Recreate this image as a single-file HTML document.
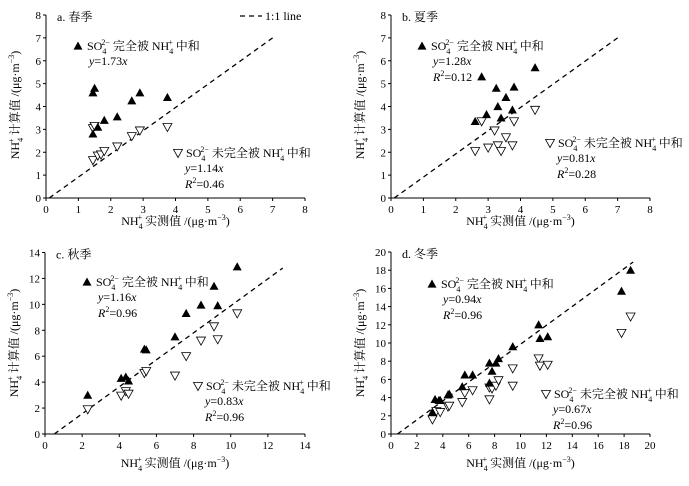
<!DOCTYPE html>
<html><head><meta charset="utf-8">
<style>
html,body{margin:0;padding:0;background:#fff;}
svg{display:block;font-family:"Liberation Serif","Noto Serif CJK SC",serif;}
</style></head>
<body>
<svg id="chart" width="689" height="486" viewBox="0 0 689 486" xmlns="http://www.w3.org/2000/svg"></svg>
<script>
// Panel data (x = measured, y = calculated)
const springFullX = [1.45,1.45,1.5,1.6,1.8,2.2,2.65,2.9,3.75];
const springFullY = [2.8,4.6,4.8,3.1,3.4,3.55,4.25,4.6,4.4];
const springPartX = [1.45,1.5,1.45,1.6,1.7,1.8,2.2,2.65,2.9,3.75];
const springPartY = [3.05,3.15,1.65,1.85,1.9,2.05,2.25,2.7,2.95,3.1];
const summerFullX = [2.6,2.8,2.95,3.25,3.3,3.4,3.55,3.75,3.8,4.45];
const summerFullY = [3.35,5.3,3.65,4.8,4.0,3.5,4.4,3.85,4.85,5.7];
const summerPartX = [2.6,2.8,3.0,3.2,3.3,3.4,3.55,3.75,3.8,4.45];
const summerPartY = [2.05,3.35,2.2,2.95,2.3,2.05,2.65,2.3,3.35,3.85];
const autumnFullX = [2.3,4.1,4.35,4.5,5.35,5.45,7.0,7.6,8.4,9.1,9.3,10.35];
const autumnFullY = [3.0,4.3,4.4,4.1,6.55,6.5,7.5,9.3,9.95,11.4,9.9,12.9];
const autumnPartX = [2.3,4.1,4.35,4.5,5.35,5.45,7.0,7.6,8.4,9.1,9.3,10.35];
const autumnPartY = [1.9,2.95,3.3,3.1,4.7,4.85,4.5,6.0,7.2,8.3,7.3,9.3];
const winterFullX = [3.2,3.4,3.7,3.8,4.4,4.5,5.5,5.7,6.3,7.6,7.6,7.8,8.1,8.3,9.4,11.4,11.5,12.1,17.8,18.5];
const winterFullY = [2.4,3.8,3.7,3.7,4.3,4.4,5.2,6.5,6.5,5.6,7.8,6.9,7.8,8.3,9.6,12.0,10.5,10.7,15.7,18.0];
const winterPartX = [3.2,3.5,3.8,4.4,4.5,5.5,5.7,6.3,7.6,7.6,7.8,8.1,8.3,9.4,9.4,11.4,11.5,12.1,17.8,18.5];
const winterPartY = [1.6,2.5,2.4,3.0,3.1,3.5,4.5,4.8,3.8,5.1,5.0,5.3,5.9,5.3,7.2,8.3,7.5,7.6,11.1,12.9];
const springTicks = [0,1,2,3,4,5,6,7,8];
const summerTicks = [0,1,2,3,4,5,6,7,8];
const autumnTicks = [0,2,4,6,8,10,12,14];
const winterTicks = [0,2,4,6,8,10,12,14,16,18,20];

const NS="http://www.w3.org/2000/svg";
const svg=document.getElementById('chart');
function mk(tag,attrs,parent){const e=document.createElementNS(NS,tag);for(const k in attrs)e.setAttribute(k,attrs[k]);(parent||svg).appendChild(e);return e;}

const panels=[
 {id:'spring',label:'a. 春季',x0:46,x1:305,y0:198,y1:15,max:8,ticks:springTicks,fx:springFullX,fy:springFullY,px:springPartX,py:springPartY,line:[0.1,0,7,7],
  leg1:[78,46],eq1:['y=1.73x',null],leg2:[178,153],eq2:['y=1.14x','0.46'],ytc:105,xtc:225,oneLine:true},
 {id:'summer',label:'b. 夏季',x0:391,x1:650,y0:198,y1:15,max:8,ticks:summerTicks,fx:summerFullX,fy:summerFullY,px:summerPartX,py:summerPartY,line:[0.1,0,7,7],
  leg1:[422,46],eq1:['y=1.28x','0.12'],leg2:[550,143],eq2:['y=0.81x','0.28'],ytc:105,xtc:225},
 {id:'autumn',label:'c. 秋季',x0:45,x1:305,y0:434,y1:252.5,max:14,ticks:autumnTicks,fx:autumnFullX,fy:autumnFullY,px:autumnPartX,py:autumnPartY,line:[0.5,0,12.8,12.8],
  leg1:[87,282],eq1:['y=1.16x','0.96'],leg2:[198,386],eq2:['y=0.83x','0.96'],ytc:343,xtc:467},
 {id:'winter',label:'d. 冬季',x0:391,x1:650,y0:434,y1:252,max:20,ticks:winterTicks,fx:winterFullX,fy:winterFullY,px:winterPartX,py:winterPartY,line:[0.5,0,18.7,18.9],
  leg1:[432,284],eq1:['y=0.94x','0.96'],leg2:[546,394],eq2:['y=0.67x','0.96'],ytc:343,xtc:467}
];

function upTri(cx,cy,s){return `${cx},${cy-s} ${cx-s},${cy+s*0.8} ${cx+s},${cy+s*0.8}`;}
function downTri(cx,cy,s){return `${cx},${cy+s} ${cx-s},${cy-s*0.8} ${cx+s},${cy-s*0.8}`;}

function legendText(g,x,y,part){
  const t=mk('text',{x:x,y:y,'font-size':12,fill:'#000'},g);
  t.innerHTML='SO<tspan font-size="8" dy="4">4</tspan><tspan font-size="8" dx="-5" dy="-9">2−</tspan><tspan dy="5"> '+(part?'未完全被 ':'完全被 ')+'NH</tspan><tspan font-size="8" dy="4">4</tspan><tspan font-size="8" dx="-5" dy="-9">+</tspan><tspan dy="5"> 中和</tspan>';
  return t;
}
function eqText(g,x,y,eq){
  const t=mk('text',{x:x,y:y,'font-size':12,fill:'#000'},g);
  t.innerHTML='<tspan font-style="italic">y</tspan>='+eq[0].slice(2,-1)+'<tspan font-style="italic">x</tspan>';
  if(eq[1]){
    const r=mk('text',{x:x,y:y+16,'font-size':12,fill:'#000'},g);
    r.innerHTML='<tspan font-style="italic">R</tspan><tspan font-size="8" dy="-5">2</tspan><tspan dy="5">='+eq[1]+'</tspan>';
  }
}

panels.forEach(p=>{
  const g=mk('g',{});
  
  
  const sx=v=>p.x0+(p.x1-p.x0)*v/p.max;
  const sy=v=>p.y0-(p.y0-p.y1)*v/p.max;
  // axes
  const ax=mk('path',{d:`M${p.x0},${p.y1} V${p.y0} H${p.x1}`,stroke:'#000','stroke-width':1,fill:'none'},g);
  
  
  p.ticks.forEach(t=>{
    mk('line',{x1:sx(t),x2:sx(t),y1:p.y0,y2:p.y0+3,stroke:'#000'},g);
    mk('line',{x1:p.x0,x2:p.x0-3,y1:sy(t),y2:sy(t),stroke:'#000'},g);
    const xl=mk('text',{x:sx(t),y:p.y0+15,'font-size':11,'text-anchor':'middle'},g);
    xl.textContent=t;
    
    
    const yl=mk('text',{x:p.x0-5,y:sy(t)+4,'font-size':11,'text-anchor':'end'},g);
    yl.textContent=t;
    
    
  });
  // 1:1 line
  const l=p.line;
  const dl=mk('line',{x1:sx(l[0]),y1:sy(l[1]),x2:sx(l[2]),y2:sy(l[3]),stroke:'#000','stroke-width':1.3,'stroke-dasharray':'5,4'},g);
  
  
  // points
  p.px.forEach((x,i)=>{
    const m=mk('polygon',{points:downTri(sx(x),sy(p.py[i]),4.5),fill:'#fff',stroke:'#000','stroke-width':0.8},g);
    
    
  });
  p.fx.forEach((x,i)=>{
    const m=mk('polygon',{points:upTri(sx(x),sy(p.fy[i]),4.5),fill:'#000'},g);
    
    
  });
  // label
  const lb=mk('text',{x:p.x0+11,y:p.y1+6,'font-size':12},g);
  lb.textContent=p.label;
  
  
  // legends
  mk('polygon',{points:upTri(p.leg1[0],p.leg1[1],4.5),fill:'#000'},g);
  const t1=legendText(g,p.leg1[0]+9,p.leg1[1]+4,false);
  
  
  eqText(g,p.leg1[0]+11,p.leg1[1]+19,p.eq1);
  mk('polygon',{points:downTri(p.leg2[0],p.leg2[1],4.5),fill:'#fff',stroke:'#000','stroke-width':0.8},g);
  const t2=legendText(g,p.leg2[0]+8,p.leg2[1]+4,true);
  
  
  eqText(g,p.leg2[0]+7,p.leg2[1]+19,p.eq2);
  // axis titles
  const xt=mk('text',{x:(p.x0+p.x1)/2,y:p.xtc,'font-size':12,'text-anchor':'middle'},g);
  xt.innerHTML='NH<tspan font-size="8" dy="4">4</tspan><tspan font-size="8" dx="-5" dy="-9">+</tspan><tspan dy="5"> 实测值 /(μg·m</tspan><tspan font-size="8" dy="-5">−3</tspan><tspan dy="5">)</tspan>';
  
  
  const yx=p.x0-27;
  const yt=mk('text',{x:0,y:0,'font-size':12,'text-anchor':'middle',transform:`translate(${yx},${p.ytc}) rotate(-90)`},g);
  yt.innerHTML='NH<tspan font-size="8" dy="4">4</tspan><tspan font-size="8" dx="-5" dy="-9">+</tspan><tspan dy="5"> 计算值 /(μg·m</tspan><tspan font-size="8" dy="-5">−3</tspan><tspan dy="5">)</tspan>';
  
  
  if(p.oneLine){
    mk('line',{x1:240,y1:16,x2:262,y2:16,stroke:'#000','stroke-width':1.3,'stroke-dasharray':'5,4'},g);
    const ol=mk('text',{x:265,y:20,'font-size':12},g);
    ol.textContent='1:1 line';
    
    
  }
});
</script>
</body></html>
